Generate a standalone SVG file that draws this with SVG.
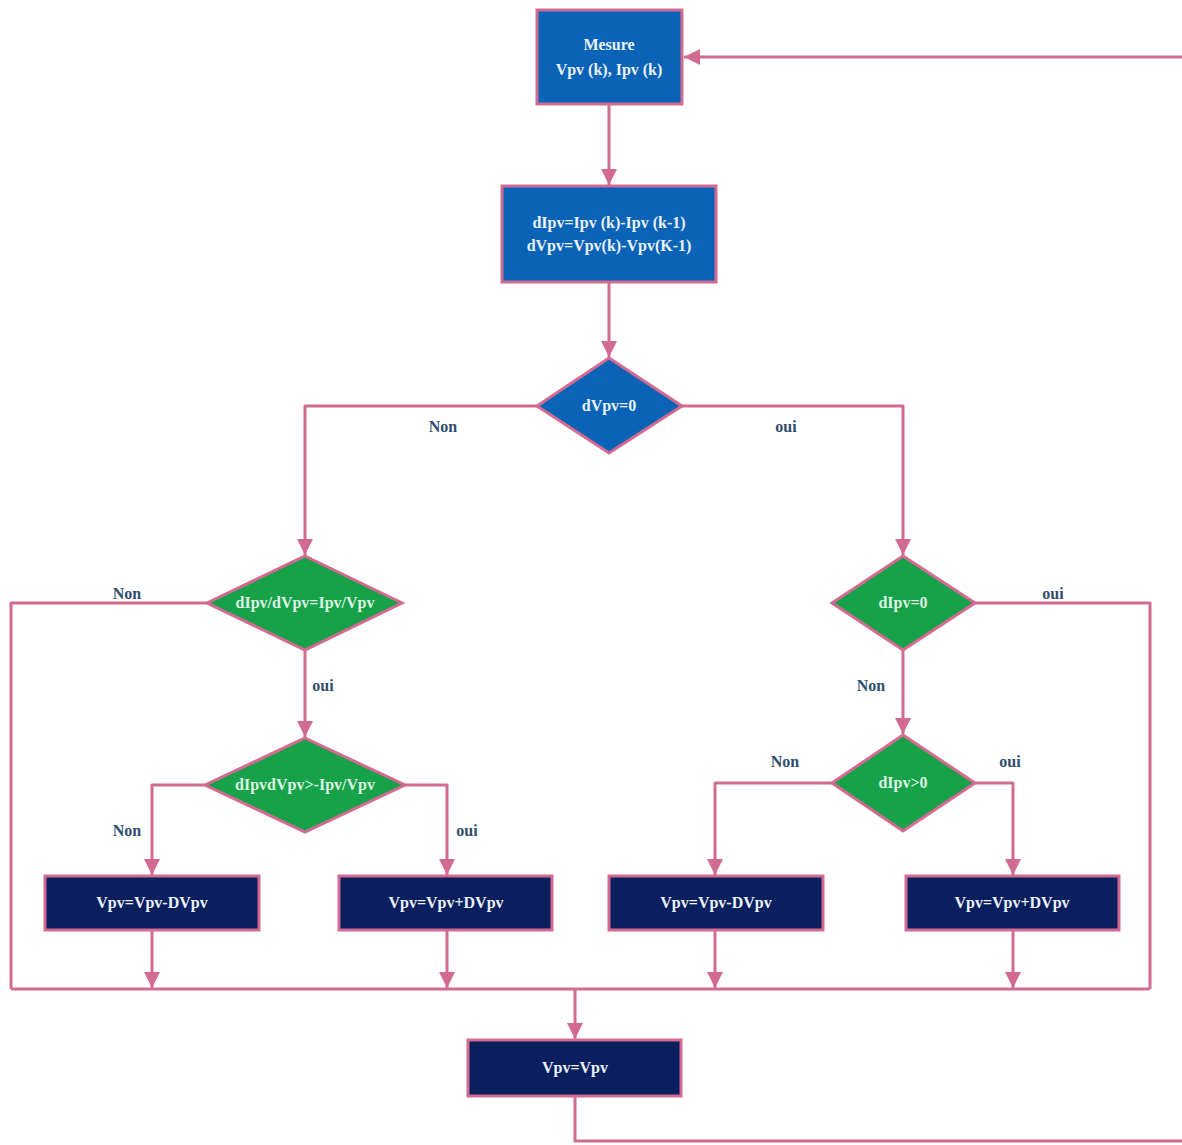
<svg xmlns="http://www.w3.org/2000/svg" width="1182" height="1145" viewBox="0 0 1182 1145">
  <style>
    .proc { fill: #0a63b6; stroke: #d26a92; stroke-width: 3; }
    .act { fill: #0b1f5e; stroke: #d26a92; stroke-width: 3; }
    .dec-blue { fill: #0a63b6; stroke: #d26a92; stroke-width: 3; }
    .dec-green { fill: #17a24a; stroke: #d26a92; stroke-width: 3; }
    .ntxt { font-family: "Liberation Serif", "DejaVu Serif", serif; font-weight: bold; font-size: 16px; fill: #eaf2fb; text-anchor: middle; }
    .gtxt { font-family: "Liberation Serif", "DejaVu Serif", serif; font-weight: bold; font-size: 16px; fill: #dcf5e3; text-anchor: middle; }
    .lbl { font-family: "Liberation Serif", "DejaVu Serif", serif; font-weight: bold; font-size: 16px; fill: #2f4d6e; text-anchor: middle; }
    .wire { fill: none; stroke: #d26a92; stroke-width: 3; stroke-linejoin: round; }
  </style>
  <defs>
    <marker id="arrow" markerUnits="userSpaceOnUse" markerWidth="18" markerHeight="18" refX="16" refY="8" orient="auto">
      <path d="M0,0 L16,8 L0,16 Z" fill="#d26a92"/>
    </marker>
  </defs>

  <rect width="1182" height="1145" fill="#ffffff"/>

  <!-- connectors -->
  <g id="connectors">
    <path class="wire" d="M1185,57 L684,57" marker-end="url(#arrow)"/>
    <path class="wire" d="M609,104 L609,185" marker-end="url(#arrow)"/>
    <path class="wire" d="M609,282 L609,357" marker-end="url(#arrow)"/>
    <path class="wire" d="M537,406 L305,406 L305,555" marker-end="url(#arrow)"/>
    <path class="wire" d="M682,406 L903,406 L903,555" marker-end="url(#arrow)"/>
    <path class="wire" d="M207,603 L11,603 L11,989"/>
    <path class="wire" d="M305,650 L305,737" marker-end="url(#arrow)"/>
    <path class="wire" d="M205,785 L152,785 L152,875" marker-end="url(#arrow)"/>
    <path class="wire" d="M405,785 L447,785 L447,875" marker-end="url(#arrow)"/>
    <path class="wire" d="M975,603 L1150,603 L1150,989"/>
    <path class="wire" d="M903,650 L903,734" marker-end="url(#arrow)"/>
    <path class="wire" d="M832,783 L715,783 L715,875" marker-end="url(#arrow)"/>
    <path class="wire" d="M975,783 L1013,783 L1013,875" marker-end="url(#arrow)"/>
    <path class="wire" d="M152,930 L152,988" marker-end="url(#arrow)"/>
    <path class="wire" d="M447,930 L447,988" marker-end="url(#arrow)"/>
    <path class="wire" d="M715,930 L715,988" marker-end="url(#arrow)"/>
    <path class="wire" d="M1013,930 L1013,988" marker-end="url(#arrow)"/>
    <path class="wire" d="M11,989 L1150,989"/>
    <path class="wire" d="M575,989 L575,1039" marker-end="url(#arrow)"/>
    <path class="wire" d="M575,1096 L575,1141 L1185,1141"/>

    <text class="lbl" x="443" y="432">Non</text>
    <text class="lbl" x="786" y="432">oui</text>
    <text class="lbl" x="127" y="599">Non</text>
    <text class="lbl" x="323" y="691">oui</text>
    <text class="lbl" x="127" y="836">Non</text>
    <text class="lbl" x="467" y="836">oui</text>
    <text class="lbl" x="1053" y="599">oui</text>
    <text class="lbl" x="871" y="691">Non</text>
    <text class="lbl" x="785" y="767">Non</text>
    <text class="lbl" x="1010" y="767">oui</text>
  </g>

  <g id="measure">
    <rect class="proc" x="537" y="10" width="145" height="94"/>
    <text class="ntxt" x="609" y="50">Mesure</text>
    <text class="ntxt" x="609" y="75">Vpv (k), Ipv (k)</text>
  </g>

  <g id="deltas">
    <rect class="proc" x="502" y="186" width="214" height="96"/>
    <text class="ntxt" x="609" y="228">dIpv=Ipv (k)-Ipv (k-1)</text>
    <text class="ntxt" x="609" y="251">dVpv=Vpv(k)-Vpv(K-1)</text>
  </g>

  <g id="test-dv">
    <polygon class="dec-blue" points="609,358 682,406 609,453 537,406"/>
    <text class="ntxt" x="609" y="411">dVpv=0</text>
  </g>

  <g id="test-ratio">
    <polygon class="dec-green" points="305,556 402,603 305,650 207,603"/>
    <text class="gtxt" x="305" y="608">dIpv/dVpv=Ipv/Vpv</text>
  </g>

  <g id="test-sign">
    <polygon class="dec-green" points="305,738 405,785 305,832 205,785"/>
    <text class="gtxt" x="305" y="790">dIpvdVpv&gt;-Ipv/Vpv</text>
  </g>

  <g id="test-di-zero">
    <polygon class="dec-green" points="903,556 975,603 903,650 832,603"/>
    <text class="gtxt" x="903" y="608">dIpv=0</text>
  </g>

  <g id="test-di-pos">
    <polygon class="dec-green" points="903,735 975,783 903,831 832,783"/>
    <text class="gtxt" x="903" y="788">dIpv&gt;0</text>
  </g>

  <g id="dec-left">
    <rect class="act" x="45" y="876" width="214" height="54"/>
    <text class="ntxt" x="152" y="908">Vpv=Vpv-DVpv</text>
  </g>

  <g id="inc-left">
    <rect class="act" x="339" y="876" width="213" height="54"/>
    <text class="ntxt" x="446" y="908">Vpv=Vpv+DVpv</text>
  </g>

  <g id="dec-right">
    <rect class="act" x="609" y="876" width="214" height="54"/>
    <text class="ntxt" x="716" y="908">Vpv=Vpv-DVpv</text>
  </g>

  <g id="inc-right">
    <rect class="act" x="906" y="876" width="213" height="54"/>
    <text class="ntxt" x="1012" y="908">Vpv=Vpv+DVpv</text>
  </g>

  <g id="update">
    <rect class="act" x="468" y="1040" width="213" height="56"/>
    <text class="ntxt" x="575" y="1073">Vpv=Vpv</text>
  </g>
</svg>
